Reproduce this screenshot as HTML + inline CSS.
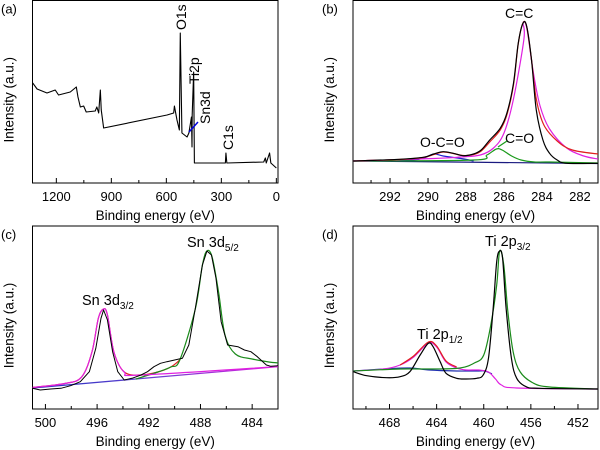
<!DOCTYPE html>
<html><head><meta charset="utf-8"><style>
html,body{margin:0;padding:0;background:#fff;}
svg{display:block;font-family:"Liberation Sans",Arial,sans-serif;}
</style></head><body>
<svg id="fig" width="600" height="450" viewBox="0 0 600 450" xmlns="http://www.w3.org/2000/svg"></svg>
<script>
// ---------- DATA ----------
// Panel (a) survey: binding energy (eV) and intensity (a.u.)
const aBE = [1329,1305,1251,1206,1188,1124,1091,1082,1069,1051,1037,988,979,969,960,955,942,596,560,556,542,529,524,515,487,477,463,460,459,451,447,278,275,270,69,60,55,37,30,0];
const aI  = [100,94,90,93,88,91,96,86,76,77,71,72,76,70,93,73,55,68,70,77,63,53,150,50,46,50,66,36,68,111,20,20,30,20,21,25,20,30,20,15];
const aTicks = [1200,900,600,300,0];

// Panel (b) C1s
const bBlackBE = [293.93,291.5,290.25,289.7,289.2,288.67,288.15,287.6,287.2,286.75,286.2,285.85,285.5,285.25,285.0,284.8,284.55,284.3,283.95,283.6,283.2,282.7,281.05];
const bBlackI  = [22,23.7,25.7,29,31.3,29.7,27.3,29,33,43,54.7,69.7,99.7,139.7,159.7,156.3,123,73,43,29.7,23,19.7,19.7];
const bRedBE = [293.93,291.5,290.25,289.7,289.2,288.67,288.15,287.6,287.2,286.75,286.2,285.85,285.5,285.25,285.0,284.8,284.55,284.3,283.9,283.2,282.4,281.05];
const bRedI  = [22,23.5,25.5,28.5,31,29.5,27.5,28.5,32,41,53,68,98,139,160,156,123,84,58,42,33,29];
const bMagBE = [293.93,289.7,288.3,287.25,286.55,286.0,285.5,284.95,285.0,284.8,284.45,284.1,283.6,282.7,281.8,281.05];
const bMagI  = [22,24.5,26,28,35,50,84,144,160,155,110,77,54,35,27,24];
const bGrnBE = [293.93,287.6,286.9,286.4,286.1,285.6,285.1,284.4,283.6,281.05];
const bGrnI  = [22,23,28,34,33,27,23,21,21,20];
const bBluBE = [292.0,290.8,290.2,289.7,289.2,288.1,287.6];
const bBluI  = [22,23,25,29,27,24,22];
const bBaseBE = [293.93,281.05];
const bBaseI  = [22,19.5];
const bTicks = [292,290,288,286,284,282];

// Panel (c) Sn3d
const cBlackBE = [501.0,500.4,499.6,498.8,498.05,497.3,496.6,496.1,495.7,495.5,495.2,494.8,494.4,493.9,493.3,492.6,492.1,491.6,491.1,490.6,490.0,489.4,488.9,488.4,487.85,487.5,487.15,486.8,486.4,485.9,485.1,484.6,484.1,483.6,482.9,482.55,481.9];
const cBlackI  = [20.7,19,20,20.7,23.3,27.3,37.3,60.7,90.7,99,89,57.3,37.3,29,30.7,34,37.3,42.3,45.7,47.3,49,50.7,64,100.7,144,158,154,130.7,87.3,64,62.3,59,57.3,52.3,44,42.7,43.3];
const cMagBE = [501.0,498.5,497.2,496.4,495.9,495.5,495.2,494.7,493.9,492.6,481.9];
const cMagI  = [21.5,25.5,32,57,91,100,94,57,37,34,42.5];
const cRedBE = [501.0,498.5,497.2,496.4,495.9,495.5,495.2,494.7,493.9,492.6,491.3,490.3,489.6];
const cRedI  = [21.5,25.5,32,57,91,100,94,57,37,34,37,42,49];
const cGrnBE = [493.0,491.3,490.3,489.6,488.4,487.85,487.5,487.1,486.6,486.1,485.3,484.0,482.7,481.9];
const cGrnI  = [30,37,42,49,100,144,158,152,117,74,55,50,47,46];
const cBaseBE = [501.0,481.9];
const cBaseI  = [21,42.5];
const cTicks = [500,496,492,488,484];

// Panel (d) Ti2p
const dBlackBE = [471.07,469.94,468.25,467.1,466.27,465.4,464.7,464.3,463.7,463.2,462.3,461.5,460.6,460.05,459.6,459.2,458.9,458.65,458.4,458.1,457.65,457.2,456.4,455.25,450.3];
const dBlackI  = [37.3,33.3,31.3,32.3,37.3,54,65.7,62.3,47.3,35.7,30.7,30,30.7,34,50.7,100.7,147.3,158,150.7,100.7,50.7,30.7,22.3,20.7,20];
const dMagBE = [471.07,468.5,467.1,465.95,464.7,464.0,463.2,462.3,461.5,460.4,459.6,459.0,458.5,457.2,450.3];
const dMagI  = [38,40,44,52,66,62,47,41,39,39,37,30,24,21,20];
const dRedBE = [467.1,465.95,464.7,464.0,463.2,462.3];
const dRedI  = [44,53,67,63,48,42];
const dBluBE = [471.07,468.5,466.3,464.6,462.3,460.6,459.9,459.3];
const dBluI  = [38,40,41,39,38,38,38,35];
const dGrnBE = [471.07,467.1,464.3,462.0,460.8,460.0,459.4,458.9,458.65,458.3,457.95,457.5,456.9,455.8,454.4,450.3];
const dGrnI  = [38,40,40,41,46,54,84,124,158,144,97,57,37,26,22,20];
const dTicks = [468,464,460,456,452];

// ---------- DRAWING ----------
const svg = document.getElementById('fig');
const NS = 'http://www.w3.org/2000/svg';
function mk(tag, attrs, parent){ const e=document.createElementNS(NS,tag); for(const k in attrs) e.setAttribute(k,attrs[k]); (parent||svg).appendChild(e); return e; }

function panel(opts){
  const g = mk('g',{});
  
  
  const L=opts.l,R=opts.r,T=opts.t,B=opts.b;
  const sx = v => L + (opts.x0 - v)/(opts.x0 - opts.x1)*(R-L);
  const sy = v => B - v;
  const frame = mk('rect',{x:L,y:T,width:R-L,height:B-T,fill:'none',stroke:'#000','stroke-width':1},g);
  
  
  const step = opts.ticks[0]-opts.ticks[1];
  for (let v=opts.ticks[0]+step; v>=opts.ticks[opts.ticks.length-1]-step; v-=step/2){
    const x=sx(v); if(x<L-0.5||x>R+0.5) continue;
    const major = Math.abs(((opts.ticks[0]-v)/step)%1)<1e-6;
    const tk = mk('line',{x1:x,x2:x,y1:B,y2:B-(major?5:3),stroke:'#000','stroke-width':1},g);
    
    
  }
  opts.ticks.forEach(v=>{
    const t = mk('text',{x:sx(v),y:B+18,'font-size':13,'text-anchor':'middle',fill:'#000'},g);
    t.textContent = v;
    
    
  });
  const xt = mk('text',{x:(L+R)/2,y:B+37,'font-size':13.5,'text-anchor':'middle',fill:'#000'},g);
  xt.textContent='Binding energy (eV)';
  
  
  const yx=L-19, yy=(T+B)/2+8;
  const yt = mk('text',{x:yx,y:yy,'font-size':13.5,'text-anchor':'middle',fill:'#000',transform:`rotate(-90 ${yx} ${yy})`},g);
  yt.textContent='Intensity (a.u.)';
  
  
  const pl = mk('text',{x:opts.lx,y:T+13,'font-size':13,fill:'#000'},g);
  pl.textContent=opts.letter;
  
  
  const clip = mk('clipPath',{id:'clip'+opts.letter.replace(/\W/g,'')},g);
  mk('rect',{x:L,y:T,width:R-L,height:B-T},clip);
  const plot = mk('g',{'clip-path':`url(#${clip.id})`},g);
  return {g,plot,sx,sy};
}

function pathFrom(xs, ys, sx, sy, smooth){
  const p = xs.map((v,i)=>[sx(v), sy(ys[i])]);
  if(!smooth){ return 'M'+p.map(q=>q[0].toFixed(2)+','+q[1].toFixed(2)).join(' L'); }
  let d='M'+p[0][0].toFixed(2)+','+p[0][1].toFixed(2);
  for(let i=0;i<p.length-1;i++){
    const p0=p[i-1]||p[i], p1=p[i], p2=p[i+1], p3=p[i+2]||p2;
    const c1=[p1[0]+(p2[0]-p0[0])/6, p1[1]+(p2[1]-p0[1])/6];
    const c2=[p2[0]-(p3[0]-p1[0])/6, p2[1]-(p3[1]-p1[1])/6];
    d+=` C${c1[0].toFixed(2)},${c1[1].toFixed(2)} ${c2[0].toFixed(2)},${c2[1].toFixed(2)} ${p2[0].toFixed(2)},${p2[1].toFixed(2)}`;
  }
  return d;
}
function curve(P, xs, ys, color, name, smooth, w){
  const e = mk('path',{d:pathFrom(xs,ys,P.sx,P.sy,smooth),fill:'none',stroke:color,'stroke-width':w||1.2,'stroke-linejoin':'round'},P.plot);
  
  
  return e;
}
function label(P, x, y, txt, sub, size, rot){
  const t = mk('text',{x:x,y:y,'font-size':size||14,fill:'#000'},P.g);
  if(rot) t.setAttribute('transform',`rotate(-90 ${x} ${y})`);
  t.appendChild(document.createTextNode(txt));
  if(sub){ const s=mk('tspan',{'font-size':10,dy:4},t); s.textContent=sub; }
  
  
  return t;
}

// (a)
const A = panel({name:'panel-a-survey',letter:'(a)',l:32.5,r:278,t:0.5,b:183,x0:1330,x1:-9,ticks:aTicks,lx:1});
curve(A,aBE,aI,'#000','survey-spectrum',false,1.1);
label(A,186,30,'O1s',null,14,true);
label(A,199,84,'Ti2p',null,14,true);
label(A,210,124,'Sn3d',null,14,true);
label(A,233,150,'C1s',null,14,true);
const arr = mk('line',{x1:198,y1:122,x2:189,y2:132,stroke:'#0000dd','stroke-width':1.5},A.g);



// (b)
const Bp = panel({name:'panel-b-c1s',letter:'(b)',l:353,r:598,t:0.5,b:183,x0:293.95,x1:281.05,ticks:bTicks,lx:322});
curve(Bp,bBaseBE,bBaseI,'#1a1a80','baseline',true);
curve(Bp,bBluBE,bBluI,'#2020d0','o-c-o-component',true);
curve(Bp,bGrnBE,bGrnI,'#1a9a1a','c-o-component',true);
curve(Bp,bMagBE,bMagI,'#e020e0','c-c-component',true);
curve(Bp,bRedBE,bRedI,'#e02020','fit-envelope',true);
curve(Bp,bBlackBE,bBlackI,'#000','c1s-spectrum',true);
label(Bp,505,18,'C=C');
label(Bp,420,147,'O-C=O');
label(Bp,505,143,'C=O');
const arrb = mk('line',{x1:507,y1:141,x2:498,y2:147,stroke:'#1a9a1a','stroke-width':1.2},Bp.g);



// (c)
const Cp = panel({name:'panel-c-sn3d',letter:'(c)',l:32.5,r:278,t:226,b:409,x0:501.0,x1:482.0,ticks:cTicks,lx:1});
const grad = mk('linearGradient',{id:'bgGrad',x1:'0',x2:'1',y1:'0',y2:'0'},Cp.g);
mk('stop',{offset:'0','stop-color':'#2030c0'},grad);
mk('stop',{offset:'0.45','stop-color':'#6040d0'},grad);
mk('stop',{offset:'1','stop-color':'#e020e0'},grad);
curve(Cp,cBaseBE,cBaseI,'url(#bgGrad)','baseline',false,1.3);
curve(Cp,cRedBE,cRedI,'#e02020','fit-envelope',true);
curve(Cp,cGrnBE,cGrnI,'#1a8a1a','sn3d52-component',true);
curve(Cp,cMagBE,cMagI,'#e020e0','sn3d32-component',true);
curve(Cp,cBlackBE,cBlackI,'#000','sn3d-spectrum',false,1);
label(Cp,82,305,'Sn 3d','3/2',14.5);
label(Cp,187,247,'Sn 3d','5/2',14.5);

// (d)
const Dp = panel({name:'panel-d-ti2p',letter:'(d)',l:353,r:598,t:226,b:409,x0:471.1,x1:450.3,ticks:dTicks,lx:322});
curve(Dp,dBluBE,dBluI,'#2030b0','baseline',true);
curve(Dp,dMagBE,dMagI,'#e020e0','ti2p12-component',true);
curve(Dp,dRedBE,dRedI,'#e02020','fit-envelope',true);
curve(Dp,dGrnBE,dGrnI,'#1a8a1a','ti2p32-component',true);
curve(Dp,dBlackBE,dBlackI,'#000','ti2p-spectrum',true);
label(Dp,417,339,'Ti 2p','1/2',14.5);
label(Dp,485,246,'Ti 2p','3/2',14.5);
</script>
</body></html>
